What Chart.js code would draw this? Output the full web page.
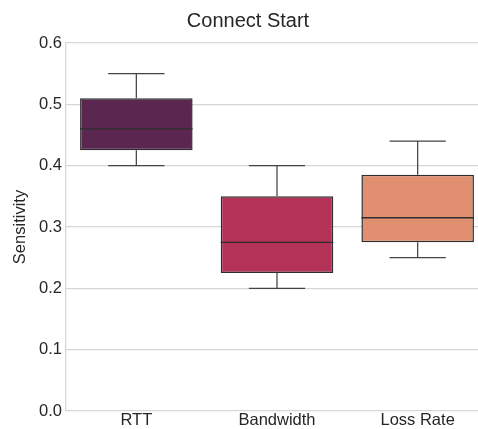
<!DOCTYPE html>
<html>
<head>
<meta charset="utf-8">
<script src="https://cdn.jsdelivr.net/npm/chart.js@4"></script>
<style>
  html, body { margin: 0; padding: 0; background: #fff; overflow: hidden; }
  #wrap { width: 488px; height: 429px; }
</style>
</head>
<body>
<div id="wrap"><canvas id="boxChart" width="488" height="429"></canvas></div>
<script>
const categories = ["RTT", "Bandwidth", "Loss Rate"];
const mins = [0.40, 0.20, 0.25];
const q1s = [0.425, 0.225, 0.275];
const medians = [0.46, 0.275, 0.315];
const q3s = [0.51, 0.35, 0.385];
const maxs = [0.55, 0.40, 0.44];
const boxColors = ["#5b2750", "#b43157", "#e08f71"];

const font = "'Liberation Sans', Arial, sans-serif";
const gridGrey = "#d6d6d6";

// whiskers, caps and medians drawn with the chart's own scales
const boxPlotLines = {
    id: "boxPlotLines",
    afterDatasetsDraw(chart) {
        const ctx = chart.ctx;
        const y = chart.scales.y;
        const bars = chart.getDatasetMeta(0).data;
        ctx.save();
        bars.forEach((bar, i) => {
            const half = bar.width / 2;
            const cx = bar.x;
            // whiskers
            ctx.strokeStyle = "#444";
            ctx.lineWidth = 1.25;
            ctx.beginPath();
            ctx.moveTo(cx, y.getPixelForValue(q3s[i]));
            ctx.lineTo(cx, y.getPixelForValue(maxs[i]));
            ctx.moveTo(cx, y.getPixelForValue(q1s[i]));
            ctx.lineTo(cx, y.getPixelForValue(mins[i]));
            // caps
            ctx.moveTo(cx - half / 2, y.getPixelForValue(maxs[i]));
            ctx.lineTo(cx + half / 2, y.getPixelForValue(maxs[i]));
            ctx.moveTo(cx - half / 2, y.getPixelForValue(mins[i]));
            ctx.lineTo(cx + half / 2, y.getPixelForValue(mins[i]));
            ctx.stroke();
            // median
            ctx.strokeStyle = "#2e2e2e";
            ctx.lineWidth = 1.4;
            ctx.beginPath();
            ctx.moveTo(cx - half, y.getPixelForValue(medians[i]));
            ctx.lineTo(cx + half, y.getPixelForValue(medians[i]));
            ctx.stroke();
        });
        ctx.restore();
    }
};

new Chart(document.getElementById("boxChart").getContext("2d"), {
    type: "bar",
    data: {
        labels: categories,
        datasets: [{
            data: categories.map((_, i) => [q1s[i], q3s[i]]),
            backgroundColor: boxColors,
            borderColor: "#2e2e2e",
            borderWidth: 1.5,
            borderSkipped: false,
            barPercentage: 0.8,
            categoryPercentage: 1.0,
        }],
    },
    options: {
        responsive: false,
        animation: false,
        layout: { padding: { left: 8, right: 0, top: 7, bottom: 0 } },
        plugins: {
            legend: { display: false },
            tooltip: { enabled: false },
            title: {
                display: true,
                text: "Connect Start",
                color: "#262626",
                font: { family: font, size: 20, weight: "normal" },
                padding: { top: 2, bottom: 10 },
            },
        },
        scales: {
            x: {
                grid: { display: false, drawTicks: false },
                border: { display: false },
                ticks: {
                    color: "#262626",
                    font: { family: font, size: 16.5 },
                    padding: 0,
                },
                afterFit: (scale) => { scale.height = 18; },
            },
            y: {
                min: 0,
                max: 0.6,
                grid: { color: gridGrey, lineWidth: 1.25, drawTicks: false },
                border: { display: true, color: gridGrey, width: 1.25 },
                ticks: {
                    stepSize: 0.1,
                    color: "#262626",
                    font: { family: font, size: 16.5 },
                    padding: 4,
                    callback: (v) => v.toFixed(1),
                },
                title: {
                    display: true,
                    text: "Sensitivity",
                    color: "#262626",
                    font: { family: font, size: 16.5 },
                    padding: { top: 3, bottom: 4 },
                },
                afterFit: (scale) => { scale.width = 58; },
            },
        },
    },
    plugins: [boxPlotLines],
});
</script>
</body>
</html>
